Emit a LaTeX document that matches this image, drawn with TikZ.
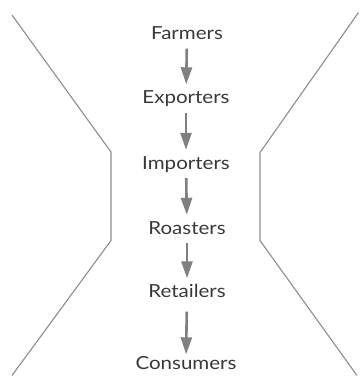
\documentclass[tikz,border=0pt]{standalone}
\usepackage{fontspec}
\setmainfont[FakeStretch=1.14]{Lato}
\usetikzlibrary{arrows.meta}
\begin{document}
\begin{tikzpicture}[x=1pt,y=-1pt,
  actor/.style={anchor=base,inner sep=0pt,text height=14pt,text depth=4pt,font=\fontsize{18}{20}\selectfont,text=black!78},
  flow/.style={draw=black!50,line width=2.6pt,-{Triangle[width=11pt,length=17pt]},shorten <=5pt,shorten >=5pt},
  border/.style={draw=black!45,line width=1.1pt}]
\useasboundingbox (0,0) rectangle (359,385);
\node[actor] (f) at (187,39.5) {Farmers};
\node[actor] (e) at (186,103.5) {Exporters};
\node[actor] (i) at (186,169) {Importers};
\node[actor] (r) at (187,234) {Roasters};
\node[actor] (t) at (187,297.5) {Retailers};
\node[actor] (c) at (186,369.5) {Consumers};
\draw[flow] (f) -- (e);
\draw[flow] (e) -- (i);
\draw[flow] (i) -- (r);
\draw[flow] (r) -- (t);
\draw[flow,shorten <=10pt,shorten >=1pt] (t) -- (c);
\draw[border] (12,15) -- (111,152) -- (111,240.5) -- (12,375.5);
\draw[border] (358.5,12.5) -- (260,152.5) -- (260,240.5) -- (357,375.5);
\end{tikzpicture}
\end{document}
